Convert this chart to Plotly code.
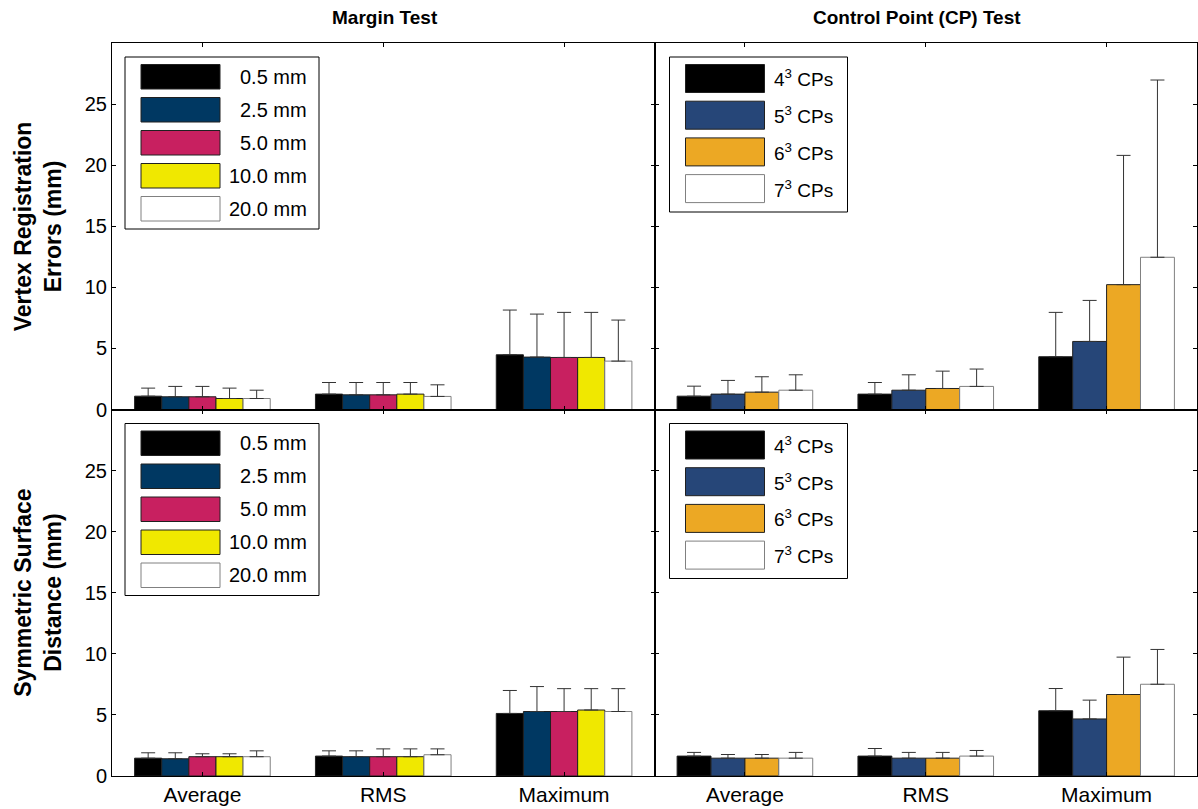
import plotly.graph_objects as go
from plotly.subplots import make_subplots

categories = ["Average", "RMS", "Maximum"]

margin_names = ["0.5 mm", "2.5 mm", "5.0 mm", "10.0 mm", "20.0 mm"]
margin_colors = ["#000000", "#003862", "#C82060", "#F0E800", "#FFFFFF"]
cp_names = ["4<sup>3</sup> CPs", "5<sup>3</sup> CPs", "6<sup>3</sup> CPs", "7<sup>3</sup> CPs"]
cp_colors = ["#000000", "#264678", "#ECA824", "#FFFFFF"]

# Vertex registration errors (mm): mean per category, upper error (SD)
vre_margin_mean = [[1.09, 1.26, 4.48], [1.04, 1.20, 4.29], [1.04, 1.20, 4.26], [0.90, 1.26, 4.26], [0.90, 1.07, 3.96]]
vre_margin_sd = [[0.66, 0.95, 3.66], [0.85, 1.01, 3.52], [0.85, 1.01, 3.69], [0.85, 0.95, 3.69], [0.68, 0.95, 3.36]]
vre_cp_mean = [[1.09, 1.26, 4.32], [1.26, 1.58, 5.57], [1.42, 1.72, 10.22], [1.58, 1.89, 12.46]]
vre_cp_sd = [[0.82, 0.95, 3.63], [1.12, 1.26, 3.36], [1.26, 1.42, 10.58], [1.26, 1.42, 14.51]]

# Symmetric surface distance (mm)
ssd_margin_mean = [[1.46, 1.63, 5.12], [1.41, 1.58, 5.28], [1.58, 1.58, 5.28], [1.58, 1.58, 5.40], [1.58, 1.74, 5.28]]
ssd_margin_sd = [[0.44, 0.43, 1.88], [0.49, 0.48, 2.04], [0.24, 0.64, 1.87], [0.24, 0.64, 1.75], [0.48, 0.48, 1.87]]
ssd_cp_mean = [[1.63, 1.63, 5.34], [1.46, 1.46, 4.67], [1.46, 1.46, 6.67], [1.46, 1.63, 7.51]]
ssd_cp_sd = [[0.30, 0.62, 1.82], [0.30, 0.47, 1.54], [0.30, 0.47, 3.06], [0.47, 0.46, 2.85]]

y_ticks = [0, 5, 10, 15, 20, 25]
col_titles = ["Margin Test", "Control Point (CP) Test"]
row_titles = ["Vertex Registration<br>Errors (mm)", "Symmetric Surface<br>Distance (mm)"]

FONT = "Arial, Liberation Sans, sans-serif"
W, H = 1198, 809
ML, MR, MT, MB = 112, 1, 43, 33
PW = (W - ML - MR) / 2
PH = (H - MT - MB) / 2

fig = make_subplots(rows=2, cols=2, horizontal_spacing=0, vertical_spacing=0)


def edge(c):
    return "#808080" if c.upper() == "#FFFFFF" else "#202020"


def add_group(means, sds, names, colors, row, col):
    for m, s, n, c in zip(means, sds, names, colors):
        fig.add_trace(go.Bar(
            x=categories, y=m, name=n, showlegend=False,
            marker=dict(color=c, line=dict(color=edge(c), width=1)),
            error_y=dict(type="data", array=s, arrayminus=[0] * len(s), symmetric=False,
                         color="#333333", thickness=1, width=7),
        ), row=row, col=col)


add_group(vre_margin_mean, vre_margin_sd, margin_names, margin_colors, 1, 1)
add_group(vre_cp_mean, vre_cp_sd, cp_names, cp_colors, 1, 2)
add_group(ssd_margin_mean, ssd_margin_sd, margin_names, margin_colors, 2, 1)
add_group(ssd_cp_mean, ssd_cp_sd, cp_names, cp_colors, 2, 2)

shapes = []
annotations = []


def add_legend(names, colors, axis_idx, cfg):
    xs = "x" if axis_idx == 1 else "x%d" % axis_idx
    ys = "y" if axis_idx == 1 else "y%d" % axis_idx
    fx = lambda px: px / PW
    fy = lambda px: 1 - px / PH
    shapes.append(dict(type="rect", xref=xs + " domain", yref=ys + " domain",
                       x0=fx(cfg["bx0"]), x1=fx(cfg["bx1"]), y0=fy(cfg["by1"]), y1=fy(cfg["by0"]),
                       line=dict(color="black", width=1), fillcolor="white", layer="above"))
    for i, (n, c) in enumerate(zip(names, colors)):
        top = cfg["sy0"] + i * cfg["step"]
        shapes.append(dict(type="rect", xref=xs + " domain", yref=ys + " domain",
                           x0=fx(cfg["sx0"]), x1=fx(cfg["sx1"]), y0=fy(top + cfg["sh"]), y1=fy(top),
                           line=dict(color=edge(c), width=1), fillcolor=c, layer="above"))
        annotations.append(dict(xref=xs + " domain", yref=ys + " domain",
                                x=fx(cfg["tx"]), y=fy(top + cfg["sh"] / 2),
                                text=n, showarrow=False, xanchor=cfg["anchor"], yanchor="middle",
                                font=dict(family=FONT, size=cfg["fs"], color="black")))


margin_cfg = dict(bx0=13, bx1=207, by0=14, by1=186, sx0=29, sx1=108, sy0=21.5, sh=24.5, step=33,
                  tx=197, anchor="right", fs=20)
cp_cfg = dict(bx0=15, bx1=193, by0=14, by1=169, sx0=31, sx1=110, sy0=21.5, sh=28, step=36.7,
              tx=117, anchor="left", fs=19)

add_legend(margin_names, margin_colors, 1, margin_cfg)
add_legend(cp_names, cp_colors, 2, cp_cfg)
add_legend(margin_names, margin_colors, 3, margin_cfg)
add_legend(cp_names, cp_colors, 4, cp_cfg)

# Column titles
title_y = 1 + (MT - 18) / (H - MT - MB)
for t, xpx in zip(col_titles, [385, 917]):
    annotations.append(dict(xref="paper", yref="paper", x=(xpx - ML) / (W - ML - MR), y=title_y,
                            text="<b>%s</b>" % t, showarrow=False, xanchor="center", yanchor="middle",
                            font=dict(family=FONT, size=19, color="black")))
# Row titles
for t, yp in zip(row_titles, [0.75, 0.25]):
    annotations.append(dict(xref="paper", yref="paper", x=(38 - ML) / (W - ML - MR), y=yp,
                            text="<b>%s</b>" % t, showarrow=False, xanchor="center", yanchor="middle",
                            textangle=-90, font=dict(family=FONT, size=23, color="black")))

axis_common = dict(showline=True, linecolor="black", linewidth=1, mirror="allticks",
                   ticks="inside", tickcolor="black", ticklen=4, showgrid=False, zeroline=False)

for r in (1, 2):
    for c in (1, 2):
        fig.update_xaxes(axis_common, type="category", categoryorder="array", categoryarray=categories,
                         range=[-0.5, 2.5], showticklabels=(r == 2),
                         tickfont=dict(family=FONT, size=21, color="black"), row=r, col=c)
        fig.update_yaxes(axis_common, range=[0, 30], tickvals=y_ticks, showticklabels=(c == 1),
                         tickfont=dict(family=FONT, size=20, color="black"), row=r, col=c)

fig.update_layout(
    width=W, height=H, barmode="group", bargap=0.25, bargroupgap=0,
    margin=dict(l=ML, r=MR, t=MT, b=MB), plot_bgcolor="white", paper_bgcolor="white",
    font=dict(family=FONT, color="black"), showlegend=False, hovermode=False,
    shapes=shapes, annotations=annotations,
)

fig.write_html("out.html", config={"displayModeBar": False},
               post_script="document.body.style.margin='0';document.body.style.overflow='hidden';")
